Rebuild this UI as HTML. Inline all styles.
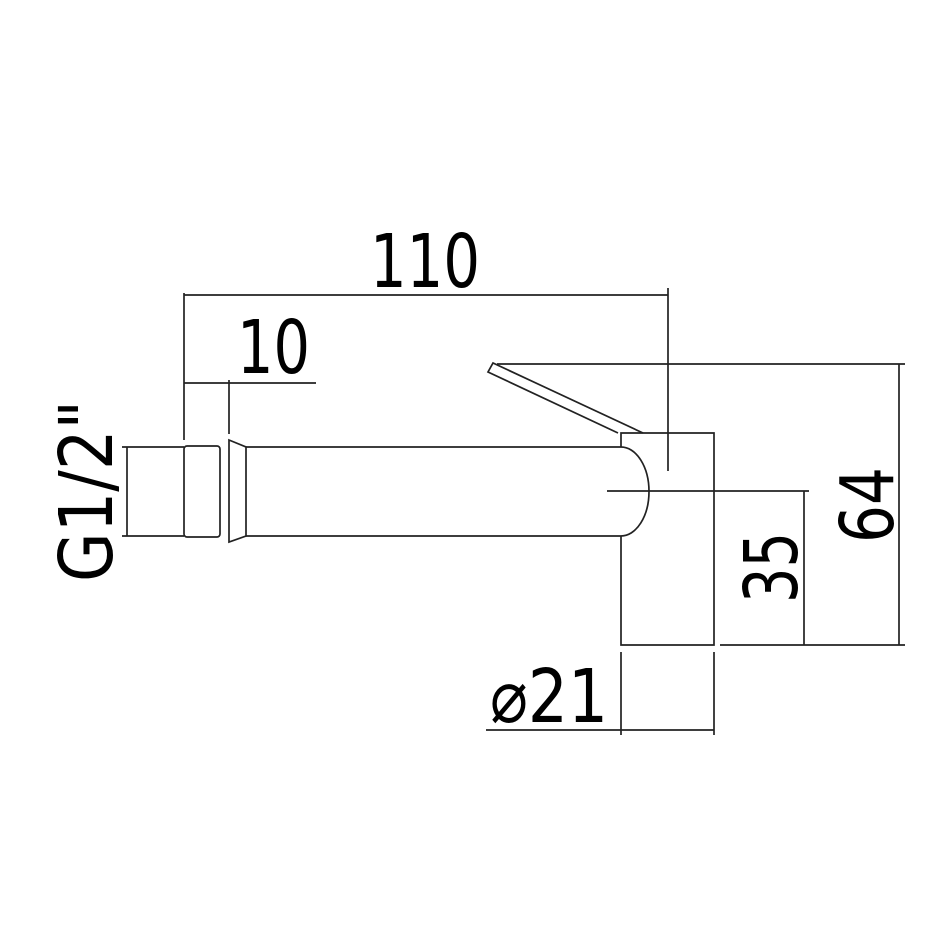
<!DOCTYPE html>
<html><head><style>html,body{margin:0;padding:0;background:#fff}svg{display:block}</style></head>
<body>
<svg width="950" height="950" viewBox="0 0 950 950" xmlns="http://www.w3.org/2000/svg">
<g fill="none" stroke="#222" stroke-width="1.7">
<!-- 110 dim -->
<line x1="184" y1="293" x2="184" y2="440"/>
<line x1="184" y1="295" x2="668" y2="295"/>
<line x1="668" y1="288" x2="668" y2="471"/>
<!-- 10 dim -->
<line x1="229" y1="380" x2="229" y2="434"/>
<line x1="184" y1="383" x2="316" y2="383"/>
<!-- G1/2 -->
<line x1="122" y1="447" x2="184" y2="447"/>
<line x1="122" y1="536" x2="184" y2="536"/>
<line x1="127" y1="447" x2="127" y2="536"/>
<!-- nut -->
<rect x="184" y="446" width="36" height="91" rx="3"/>
<!-- cone -->
<path d="M229 440 L246 447 L246 536 L229 542 Z"/>
<!-- spout -->
<line x1="246" y1="447" x2="621" y2="447"/>
<line x1="246" y1="536" x2="621" y2="536"/>
<path d="M621 447 A28 44.5 0 0 1 621 536"/>
<line x1="607" y1="491" x2="809" y2="491"/>
<!-- body -->
<path d="M621 536 L621 645 L714 645 L714 433 L621 433 L621 447"/>
<!-- lever -->
<path d="M643 433 L493 363 L488 372 L618 433"/>
<line x1="497" y1="364" x2="905" y2="364"/>
<!-- 64 -->
<line x1="899" y1="364" x2="899" y2="645"/>
<line x1="720" y1="645" x2="905" y2="645"/>
<!-- 35 -->
<line x1="804" y1="491" x2="804" y2="645"/>
<!-- phi21 -->
<line x1="621" y1="652" x2="621" y2="735"/>
<line x1="714" y1="652" x2="714" y2="735"/>
<line x1="486" y1="730" x2="714" y2="730"/>
</g>
<g font-family="'DejaVu Sans','Liberation Sans',sans-serif" font-size="74" fill="#000">
<text x="370" y="287" textLength="110" lengthAdjust="spacingAndGlyphs">110</text>
<text x="237" y="373" textLength="73" lengthAdjust="spacingAndGlyphs">10</text>
<text x="490" y="722" textLength="118" lengthAdjust="spacingAndGlyphs">⌀21</text>
<text transform="translate(112,582) rotate(-90)" x="0" y="0" textLength="182" lengthAdjust="spacingAndGlyphs">G1/2"</text>
<text transform="translate(893,543) rotate(-90)" x="0" y="0" textLength="76" lengthAdjust="spacingAndGlyphs">64</text>
<text transform="translate(797,603) rotate(-90)" x="0" y="0" textLength="71" lengthAdjust="spacingAndGlyphs">35</text>
</g>
</svg>
</body></html>
